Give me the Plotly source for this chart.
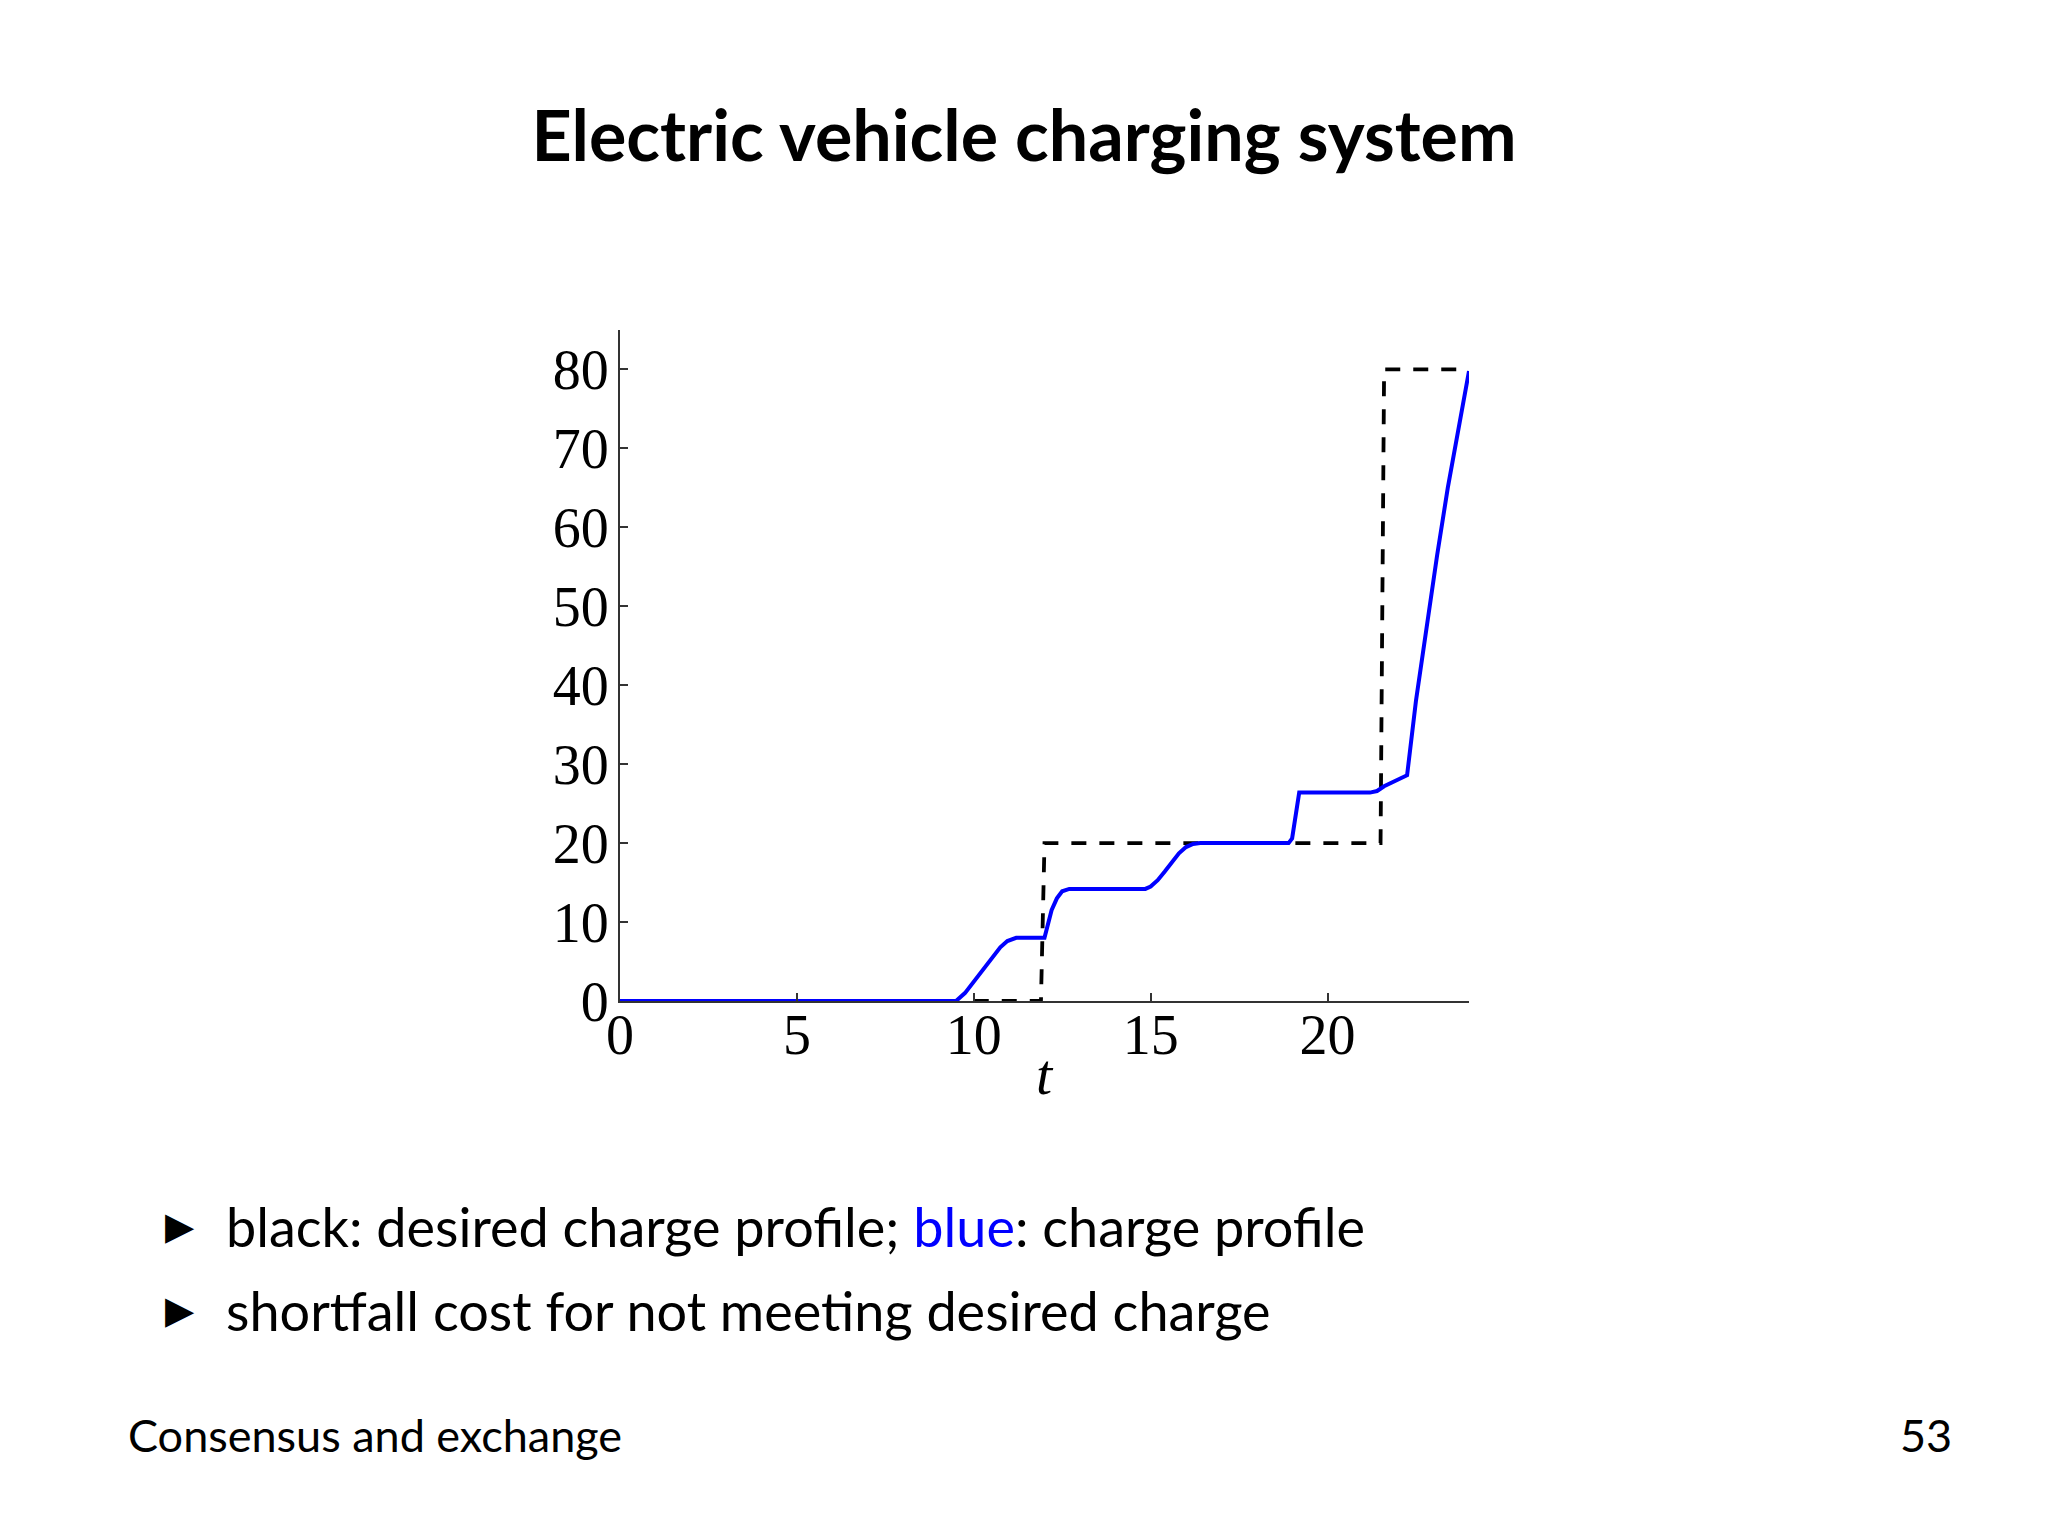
import plotly.graph_objects as go

# ---- data ----
t_desired = [10.0, 11.9, 12.0, 21.5, 21.6, 24.0]
v_desired = [0, 0, 20, 20, 80, 80]

t_charge = [0.0, 9.5, 9.75, 10.0, 10.25, 10.5, 10.75, 10.95, 11.2, 12.0,
            12.05, 12.2, 12.35, 12.5, 12.7, 14.85, 15.0, 15.2, 15.4, 15.6,
            15.8, 16.0, 16.2, 16.4, 18.9, 19.0, 19.2, 21.2, 21.4, 21.6,
            22.25, 22.5, 22.8, 23.1, 23.4, 23.7, 24.0]
v_charge = [0.0, 0.0, 1.0, 2.5, 4.0, 5.5, 6.8, 7.6, 8.0, 8.0,
            9.0, 11.5, 13.0, 13.9, 14.2, 14.2, 14.5, 15.3, 16.4, 17.6,
            18.7, 19.5, 19.9, 20.0, 20.0, 20.6, 26.4, 26.4, 26.6, 27.2,
            28.6, 38.0, 47.5, 56.5, 65.0, 72.5, 79.8]

x_ticks = [0, 5, 10, 15, 20]
y_ticks = [0, 10, 20, 30, 40, 50, 60, 70, 80]

title_text = "Electric vehicle charging system"
x_title = "t"
bullet1 = 'black: desired charge profile; <span style="color:#0000ff">blue</span>: charge profile'
bullet2 = "shortfall cost for not meeting desired charge"
footer_left = "Consensus and exchange"
footer_right = "53"

# page has an 8px body margin; figure sized so page is exactly filled
OFF = 8
W, H = 2048 - 2 * OFF, 1536 - 2 * OFF
L, R, T, B = 620 - OFF, 1469 - OFF, 330 - OFF, 1001 - OFF

def px(x):
    return (x - OFF - L) / (R - L)

def py(y):
    return (B - (y - OFF)) / (B - T)

SANS = "Lato, sans-serif"
SERIF = "Liberation Serif, DejaVu Serif, serif"

fig = go.Figure()
fig.add_trace(go.Scatter(x=t_desired, y=v_desired, mode="lines",
                         line=dict(color="black", width=3.8, dash="15px,13px"),
                         showlegend=False, hoverinfo="skip"))
fig.add_trace(go.Scatter(x=t_charge, y=v_charge, mode="lines",
                         line=dict(color="#0000ff", width=4),
                         showlegend=False, hoverinfo="skip"))

fig.update_layout(
    width=W, height=H,
    margin=dict(l=L, r=W - R, t=T, b=H - B, autoexpand=False),
    paper_bgcolor="white", plot_bgcolor="white",
    title=dict(text="<b>" + title_text + "</b>", xref="container", x=0.5,
               xanchor="center", yref="container", y=1 - (136 - OFF) / H, yanchor="middle",
               font=dict(family=SANS, size=70, color="black")),
    xaxis=dict(range=[0, 24], tickvals=x_ticks, ticks="inside", ticklen=8,
               tickwidth=1.5, tickcolor="#333", showline=True, linecolor="#333",
               linewidth=2, showgrid=False, zeroline=False, automargin=False,
               tickfont=dict(family=SERIF, size=56, color="black"),
               ticklabelstandoff=-16),
    yaxis=dict(range=[0, 85], tickvals=y_ticks, ticks="inside", ticklen=8,
               tickwidth=1.5, tickcolor="#333", showline=True, linecolor="#333",
               linewidth=2, showgrid=False, zeroline=False, automargin=False,
               ticklabelstandoff=-2,
               tickfont=dict(family=SERIF, size=56, color="black")),
)

ann = []
ann.append(dict(text="<i>" + x_title + "</i>", x=0.5, y=py(1074), xref="paper", yref="paper",
                xanchor="center", yanchor="middle", showarrow=False,
                font=dict(family=SERIF, size=58, color="black")))
for ycen, txt in [(1226, bullet1), (1310, bullet2)]:
    ann.append(dict(text="\u25B6", x=px(180), y=py(ycen), xref="paper", yref="paper",
                    xanchor="center", yanchor="middle", showarrow=False,
                    font=dict(family="DejaVu Sans", size=38, color="black")))
    ann.append(dict(text=txt, x=px(224), y=py(ycen), xref="paper", yref="paper",
                    xanchor="left", yanchor="middle", showarrow=False,
                    font=dict(family=SANS, size=54, color="black")))
ann.append(dict(text=footer_left, x=px(126), y=py(1435), xref="paper", yref="paper",
                xanchor="left", yanchor="middle", showarrow=False,
                font=dict(family=SANS, size=45, color="black")))
ann.append(dict(text=footer_right, x=px(1954), y=py(1435), xref="paper", yref="paper",
                xanchor="right", yanchor="middle", showarrow=False,
                font=dict(family=SANS, size=45, color="black")))
fig.update_layout(annotations=ann)

fig.write_html("out.html")
